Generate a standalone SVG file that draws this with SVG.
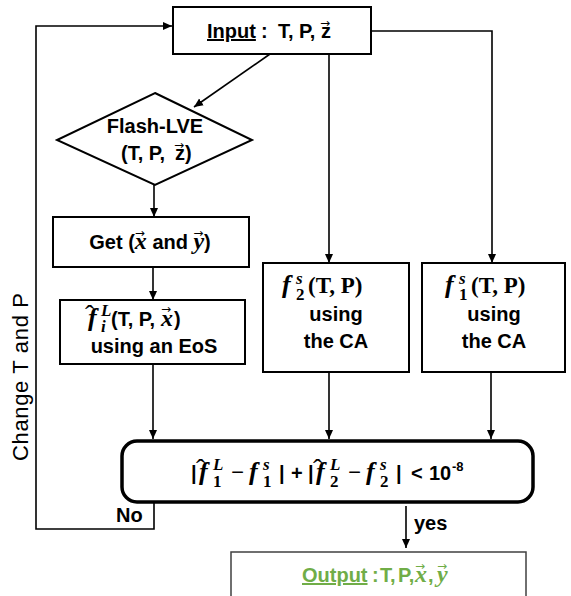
<svg xmlns="http://www.w3.org/2000/svg" width="571" height="596" viewBox="0 0 571 596">
<style>
.t{font-family:"Liberation Sans",Arial,sans-serif;font-weight:bold;font-size:20px;fill:#000}
.mi{font-family:"Liberation Serif","Times New Roman",serif;font-weight:bold;font-style:italic;font-size:24px}
.mf{font-family:"Liberation Serif","Times New Roman",serif;font-weight:bold;font-style:italic;font-size:26px}
.mu{font-family:"Liberation Serif","Times New Roman",serif;font-weight:bold;font-style:normal;font-size:23px}
.sm{font-size:17px}
.vec{font-family:"DejaVu Sans",sans-serif;font-weight:normal;font-style:normal;font-size:12px}
.hat{font-family:"Liberation Serif",serif;font-weight:normal;font-style:normal;font-size:28px}
.box{fill:#fff;stroke:#000;stroke-width:2}
.ln{fill:none;stroke:#000;stroke-width:1.6}
.green{fill:#70AD47}
.side{font-family:"Liberation Sans",Arial,sans-serif;font-size:22px;fill:#000}
</style>
<defs>
<marker id="ah" markerUnits="userSpaceOnUse" markerWidth="10" markerHeight="10" refX="9" refY="5" orient="auto">
<path d="M0,1 L9,5 L0,9 Z" fill="#000"/>
</marker>
</defs>
<rect width="571" height="596" fill="#fff"/>

<g id="connectors">
<path class="ln" d="M270,54 L194,107" marker-end="url(#ah)"/>
<path class="ln" d="M154,185 V217" marker-end="url(#ah)"/>
<path class="ln" d="M153,268 V300" marker-end="url(#ah)"/>
<path class="ln" d="M153,365 V439" marker-end="url(#ah)"/>
<path class="ln" d="M329,54 V263" marker-end="url(#ah)"/>
<path class="ln" d="M371,31 H492 V263" marker-end="url(#ah)"/>
<path class="ln" d="M329,373 V439" marker-end="url(#ah)"/>
<path class="ln" d="M491,373 V439" marker-end="url(#ah)"/>
<path class="ln" d="M154,503 V529 H36 V26 H172" marker-end="url(#ah)"/>
<path class="ln" d="M406,506 V548" marker-end="url(#ah)"/>
<text class="t" x="116" y="522">No</text>
<text class="t" x="414" y="530">yes</text>
<text class="side" transform="translate(28,377) rotate(-90)" text-anchor="middle" textLength="168" lengthAdjust="spacing">Change T and P</text>
</g>

<g id="input">
<rect class="box" x="173" y="7" width="198" height="47"/>
<text class="t" y="38"><tspan x="207" text-decoration="underline">Input</tspan><tspan x="261">:</tspan><tspan x="278">T,</tspan><tspan x="299">P,</tspan><tspan x="321">z</tspan><tspan class="vec" x="320" y="27">→</tspan></text>
</g>

<g id="flash">
<polygon class="box" points="155,93 252,140 155,185 57,140"/>
<text class="t" x="155" y="133" text-anchor="middle">Flash-LVE</text>
<text class="t" y="160"><tspan x="121">(T, P,</tspan><tspan x="175">z</tspan><tspan class="vec" x="174" y="149">→</tspan><tspan x="185" y="160">)</tspan></text>
</g>

<g id="get">
<rect class="box" x="53" y="217" width="196" height="50"/>
<text class="t" x="150" y="249" text-anchor="middle">Get (<tspan class="mi">x</tspan><tspan class="vec" dx="-12" dy="-12">→</tspan><tspan dx="2" dy="12"> and </tspan><tspan class="mi">y</tspan><tspan class="vec" dx="-11" dy="-12">→</tspan><tspan dx="0.7" dy="12">)</tspan></text>
</g>

<g id="fugacity-liquid">
<rect class="box" x="60" y="300" width="185" height="64"/>
<text class="t" y="326"><tspan class="hat" x="85" y="324">ˆ</tspan><tspan class="mf" x="88" y="326">f</tspan><tspan class="mi sm" x="101" y="316">L</tspan><tspan class="mi sm" x="101" y="332">i</tspan><tspan x="111" y="326">(T, P,</tspan><tspan class="mi" x="161">x</tspan><tspan class="vec" x="161" y="313">→</tspan><tspan x="174" y="326">)</tspan></text>
<text class="t" x="154" y="353" text-anchor="middle">using an EoS</text>
</g>

<g id="fugacity-solid-2">
<rect class="box" x="263" y="263" width="146" height="109"/>
<text class="t" y="293"><tspan class="mf" x="282">f</tspan><tspan class="mi sm" x="296" y="284">s</tspan><tspan class="mu sm" x="296" y="300">2</tspan><tspan class="mu" x="308" y="293">(T, P)</tspan></text>
<text class="t" x="336" y="321" text-anchor="middle">using</text>
<text class="t" x="336" y="348" text-anchor="middle">the CA</text>
</g>

<g id="fugacity-solid-1">
<rect class="box" x="422" y="263" width="143" height="109"/>
<text class="t" y="293"><tspan class="mf" x="445">f</tspan><tspan class="mi sm" x="459" y="284">s</tspan><tspan class="mu sm" x="459" y="300">1</tspan><tspan class="mu" x="471" y="293">(T, P)</tspan></text>
<text class="t" x="494" y="321" text-anchor="middle">using</text>
<text class="t" x="494" y="348" text-anchor="middle">the CA</text>
</g>

<g id="criterion">
<rect x="122" y="441" width="411" height="61" rx="15" ry="15" fill="#fff" stroke="#000" stroke-width="3.5"/>
<text class="t" y="480"><tspan x="191">|</tspan><tspan class="hat" x="196" y="478">ˆ</tspan><tspan class="mf" x="199" y="480">f</tspan><tspan class="mi sm" x="213" y="470">L</tspan><tspan class="mu sm" x="213" y="487">1</tspan><tspan class="mu" x="231" y="480">−</tspan><tspan class="mf" x="249">f</tspan><tspan class="mi sm" x="263" y="470">s</tspan><tspan class="mu sm" x="263" y="487">1</tspan><tspan x="279" y="480">|</tspan><tspan x="291">+</tspan><tspan x="308">|</tspan><tspan class="hat" x="313" y="478">ˆ</tspan><tspan class="mf" x="316" y="480">f</tspan><tspan class="mi sm" x="330" y="470">L</tspan><tspan class="mu sm" x="330" y="487">2</tspan><tspan class="mu" x="348" y="480">−</tspan><tspan class="mf" x="366">f</tspan><tspan class="mi sm" x="380" y="470">s</tspan><tspan class="mu sm" x="380" y="487">2</tspan><tspan x="396" y="480">|</tspan><tspan x="411">&lt;</tspan><tspan x="429">10</tspan><tspan x="452" y="471" style="font-size:13px">-8</tspan></text>
</g>

<g id="output">
<rect x="231" y="552" width="295" height="60" fill="#fff" stroke="#404040" stroke-width="1.5"/>
<text class="t green" y="582"><tspan x="302" text-decoration="underline">Output</tspan><tspan x="372">:</tspan><tspan x="380">T,</tspan><tspan x="398">P,</tspan><tspan class="mi" x="415">x</tspan><tspan class="vec" x="415" y="570">→</tspan><tspan x="428" y="582">,</tspan><tspan class="mi" x="437">y</tspan><tspan class="vec" x="437" y="570">→</tspan></text>
</g>
</svg>
